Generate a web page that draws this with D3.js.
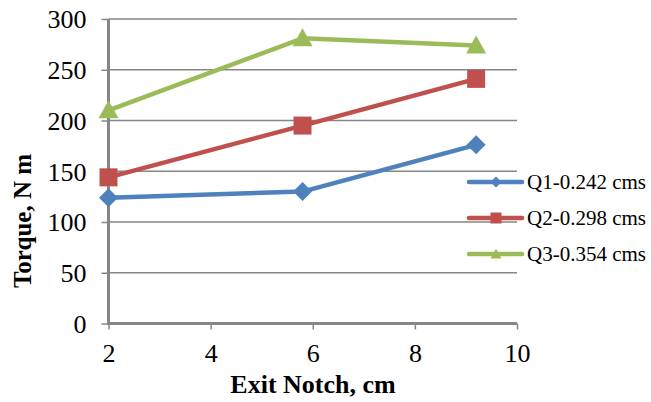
<!DOCTYPE html>
<html>
<head>
<meta charset="utf-8">
<script src="https://cdn.jsdelivr.net/npm/d3@7"></script>
<style>
  body { margin: 0; background: #fff; }
</style>
</head>
<body>
<svg width="651" height="402"></svg>
<script>
// data
var notch = [2, 5.8, 9.2];
var q1 = [124, 130, 176];
var q2 = [144, 195, 241];
var q3 = [210, 281, 274];
var seriesNames = ["Q1-0.242 cms", "Q2-0.298 cms", "Q3-0.354 cms"];
var xTicks = [2, 4, 6, 8, 10];
var yTicks = [0, 50, 100, 150, 200, 250, 300];

var colors = ["#4F81BD", "#C0504D", "#9BBB59"];
var serif = "'Liberation Serif', 'Times New Roman', serif";

// excel-like markers, r = half width
function marker(s, r) {
  if (s == 0) return "M0," + (-r) + "L" + r + ",0L0," + r + "L" + (-r) + ",0Z";
  if (s == 1) return "M" + (-r) + "," + (-r) + "h" + (2 * r) + "v" + (2 * r) + "h" + (-2 * r) + "Z";
  return "M0," + (-r) + "L" + r + "," + (r * 0.8) + "L" + (-r) + "," + (r * 0.8) + "Z";
}
var mSize = [9.5, 9, 10];

var svg = d3.select("svg");
var margin = {top: 19, left: 108.5};
var w = 517 - margin.left, h = 323.5 - margin.top;

var x = d3.scaleLinear().domain([2, 10]).range([0, w]);
var y = d3.scaleLinear().domain([0, 300]).range([h, 0]);

var g = svg.append("g")
    .attr("transform", "translate(" + margin.left + "," + margin.top + ")");

// gridlines
g.selectAll(".grid")
  .data(yTicks.slice(1))
  .enter().append("line")
    .attr("x1", 0).attr("x2", w)
    .attr("y1", function(d) { return y(d); })
    .attr("y2", function(d) { return y(d); })
    .attr("stroke", "#868686").attr("stroke-width", 1.5);

// axes
var yAxis = g.append("g")
    .call(d3.axisLeft(y).tickValues(yTicks).tickSize(7).tickPadding(15));
var xAxis = g.append("g")
    .attr("transform", "translate(0," + h + ")")
    .call(d3.axisBottom(x).tickValues(xTicks).tickSize(6).tickPadding(14));

[xAxis, yAxis].forEach(function(a) {
  a.select(".domain").remove();
  a.attr("font-family", null);
  a.selectAll("line").attr("stroke", "#868686").attr("stroke-width", 1.5);
  a.selectAll("text").style("font-family", serif).style("font-size", "26px").attr("fill", "#000");
});
yAxis.selectAll("text").attr("dy", "0.34em");

g.append("line").attr("x1", 0).attr("x2", 0).attr("y1", 0).attr("y2", h + 1.5)
  .attr("stroke", "#868686").attr("stroke-width", 3);
g.append("line").attr("x1", -1.5).attr("x2", w).attr("y1", h).attr("y2", h)
  .attr("stroke", "#868686").attr("stroke-width", 3);

// series
var series = [q1, q2, q3];
var line = d3.line()
    .x(function(d, i) { return x(notch[i]); })
    .y(function(d) { return y(d); });

series.forEach(function(vals, s) {
  g.append("path")
    .datum(vals)
    .attr("d", line)
    .attr("fill", "none")
    .attr("stroke", colors[s])
    .attr("stroke-width", 4.5)
    .attr("stroke-linejoin", "round");
  g.selectAll(".m" + s)
    .data(vals)
    .enter().append("path")
      .attr("transform", function(d, i) {
        return "translate(" + x(notch[i]) + "," + y(d) + ")";
      })
      .attr("d", marker(s, mSize[s]))
      .attr("fill", colors[s]);
});

// legend
var leg = svg.append("g").attr("transform", "translate(469,182)");
seriesNames.forEach(function(name, s) {
  var row = leg.append("g").attr("transform", "translate(0," + (s * 36) + ")");
  row.append("line").attr("x1", 0).attr("x2", 53)
    .attr("stroke", colors[s]).attr("stroke-width", 4.5).attr("stroke-linecap", "round");
  row.append("path")
    .attr("transform", "translate(27,0)")
    .attr("d", marker(s, 5.5))
    .attr("fill", colors[s]);
  row.append("text").attr("x", 58).attr("dy", "0.35em")
    .style("font-family", serif).style("font-size", "21px").text(name);
});

// axis titles
svg.append("text")
  .attr("x", 313).attr("y", 393)
  .attr("text-anchor", "middle")
  .style("font-family", serif).style("font-size", "26px").style("font-weight", "bold")
  .text("Exit Notch, cm");
svg.append("text")
  .attr("transform", "translate(31,221) rotate(-90)")
  .attr("text-anchor", "middle")
  .style("font-family", serif).style("font-size", "25px").style("font-weight", "bold")
  .text("Torque, N m");
</script>
</body>
</html>
